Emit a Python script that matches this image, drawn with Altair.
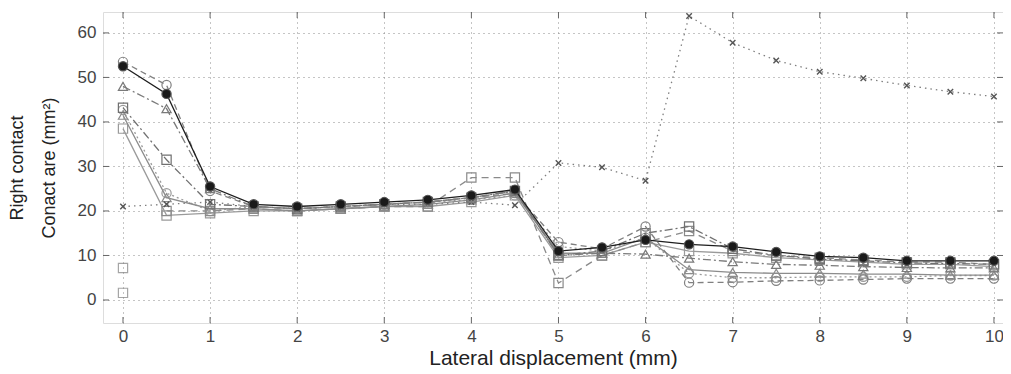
import altair as alt
import pandas as pd

# ---- data ----
x_vals = [0, 0.5, 1, 1.5, 2, 2.5, 3, 3.5, 4, 4.5, 5, 5.5, 6, 6.5, 7, 7.5, 8, 8.5, 9, 9.5, 10]

s_A = [52.5, 46.3, 25.5, 21.5, 21.0, 21.5, 22.0, 22.5, 23.5, 24.8, 11.0, 11.8, 13.5, 12.5, 12.0, 10.8, 9.8, 9.5, 8.8, 8.8, 8.8]
s_B = [53.5, 48.3, 24.5, 21.0, 20.5, 21.0, 21.5, 22.0, 23.0, 24.0, 13.0, 11.5, 16.5, 3.9, 4.0, 4.3, 4.4, 4.6, 4.8, 4.8, 4.8]
s_C = [48.0, 43.0, 25.0, 21.0, 20.5, 21.0, 21.5, 22.0, 23.0, 24.5, 10.0, 10.5, 10.3, 9.4, 8.6, 8.0, 7.8, 7.5, 7.3, 7.2, 7.2]
s_D = [41.5, 23.0, 20.5, 20.5, 20.0, 20.5, 21.0, 21.5, 22.5, 24.0, 10.5, 10.5, 14.0, 6.8, 6.2, 6.0, 6.0, 5.8, 5.8, 5.6, 5.6]
s_E = [43.2, 31.5, 21.5, 21.0, 20.5, 21.0, 21.5, 22.0, 23.0, 24.5, 10.0, 11.0, 15.0, 16.5, 11.5, 10.0, 9.2, 8.8, 8.3, 8.2, 8.0]
s_F = [38.5, 19.0, 19.5, 20.0, 20.0, 20.5, 21.0, 21.0, 22.0, 23.5, 9.5, 10.0, 13.0, 11.0, 10.5, 9.5, 9.0, 8.5, 8.0, 8.0, 7.5]
s_G = [None, 20.0, 20.0, 20.5, 20.0, 20.5, 21.0, 21.0, 27.5, 27.5, 3.8, 10.0, 13.0, 15.5, 11.0, 10.0, 9.5, 9.0, 8.5, 8.5, 8.0]
s_H = [21.0, 21.5, 22.0, 21.0, 20.5, 21.0, 21.5, 21.5, 22.0, 21.3, 30.8, 29.8, 26.8, 63.8, 57.8, 53.8, 51.3, 49.8, 48.2, 46.8, 45.7]
s_I = [42.7, 24.0, 20.0, 21.0, 20.5, 21.0, 21.5, 22.0, 22.5, 23.5, 12.0, 11.0, 14.0, 6.0, 5.0, 5.0, 5.2, 5.2, 5.2, 5.5, 5.5]

iso_x = [0, 0]
iso_y = [7.2, 1.6]

x_ticks = [0, 1, 2, 3, 4, 5, 6, 7, 8, 9, 10]
y_ticks = [0, 10, 20, 30, 40, 50, 60]

x_title = "Lateral displacement (mm)"
y_title = ["Right contact", "Conact are (mm\u00b2)"]

# ---- scales / axes ----
W, H = 900, 311
FONT = "Liberation Sans"
xs = alt.Scale(domain=[-0.2296, 10.104], nice=False, zero=False)
ys = alt.Scale(domain=[-5.17, 64.7], nice=False, zero=False)

x_axis = alt.Axis(values=x_ticks, title=x_title, grid=True, gridDash=[1, 4], gridColor="#8a8a8a",
                  gridWidth=1, ticks=False, domain=False, labelFontSize=17, labelColor="#444",
                  labelPadding=5, labelFont=FONT, titleFont=FONT, titleFontSize=21,
                  titleFontWeight="normal", titleColor="#222", titlePadding=3)
y_axis = alt.Axis(values=y_ticks, title=y_title, grid=True, gridDash=[1, 4], gridColor="#8a8a8a",
                  gridWidth=1, ticks=False, domain=False, labelFontSize=17, labelColor="#444",
                  labelPadding=7, labelFont=FONT, titleFont=FONT, titleFontSize=18,
                  titleFontWeight="normal", titleColor="#222", titlePadding=19, titleLineHeight=32)


def X():
    return alt.X("x:Q", scale=xs, axis=x_axis)


def Y():
    return alt.Y("y:Q", scale=ys, axis=y_axis)


X_SHAPE = "M-1,-1L1,1M-1,1L1,-1"

styles = [
    # name, values, color, dash, shape, filled
    ("I", s_I, "#9a9a9a", [2, 3], "circle", False),
    ("F", s_F, "#9a9a9a", None, "square", False),
    ("D", s_D, "#8c8c8c", None, "triangle-up", False),
    ("G", s_G, "#8a8a8a", [7, 5], "square", False),
    ("H", s_H, "#7f7f7f", [1.5, 4], X_SHAPE, False),
    ("E", s_E, "#707070", [8, 3, 2, 3], "square", False),
    ("C", s_C, "#7a7a7a", [8, 3, 2, 3], "triangle-up", False),
    ("B", s_B, "#808080", [6, 4], "circle", False),
    ("A", s_A, "#1e1e1e", None, "circle", True),
]

layers = []

# inward ticks on all four sides
xt = pd.DataFrame({"x": x_ticks})
yt = pd.DataFrame({"y": y_ticks})
layers.append(alt.Chart(xt).mark_rule(color="#666", strokeWidth=1).encode(x=X(), y=alt.value(H), y2=alt.value(H - 6)))
layers.append(alt.Chart(xt).mark_rule(color="#666", strokeWidth=1).encode(x=X(), y=alt.value(0), y2=alt.value(6)))
layers.append(alt.Chart(yt).mark_rule(color="#666", strokeWidth=1).encode(y=Y(), x=alt.value(0), x2=alt.value(6)))
layers.append(alt.Chart(yt).mark_rule(color="#666", strokeWidth=1).encode(y=Y(), x=alt.value(W), x2=alt.value(W - 6)))

for name, vals, color, dash, shape, filled in styles:
    df = pd.DataFrame({"x": x_vals, "y": vals}).dropna()
    line_kw = dict(color=color, strokeWidth=1.3, clip=True)
    if dash:
        line_kw["strokeDash"] = dash
    layers.append(alt.Chart(df).mark_line(**line_kw).encode(x=X(), y=Y()))
    pt_kw = dict(shape=shape, size=85, strokeWidth=1.2, clip=True, opacity=1)
    if filled:
        pt_kw.update(filled=True, color="#1a1a1a", stroke="#555")
    else:
        pt_kw.update(filled=False, color=color, fill="white", fillOpacity=0)
    if shape == X_SHAPE:
        pt_kw["size"] = 30
        pt_kw["strokeWidth"] = 1.4
        pt_kw["color"] = "#555"
    layers.append(alt.Chart(df).mark_point(**pt_kw).encode(x=X(), y=Y()))

iso = pd.DataFrame({"x": iso_x, "y": iso_y})
layers.append(alt.Chart(iso).mark_point(shape="square", size=85, filled=False, color="#808080",
                                        strokeWidth=1.2).encode(x=X(), y=Y()))

chart = alt.layer(*layers).properties(
    width=W, height=H,
    autosize=alt.AutoSizeParams(type="none"),
    padding={"left": 95, "top": 4, "right": 0, "bottom": 50},
    background="white",
).configure_view(stroke="#777", strokeWidth=1).configure(font=FONT)

chart.save("out.html", embed_options={"renderer": "svg", "actions": False})
